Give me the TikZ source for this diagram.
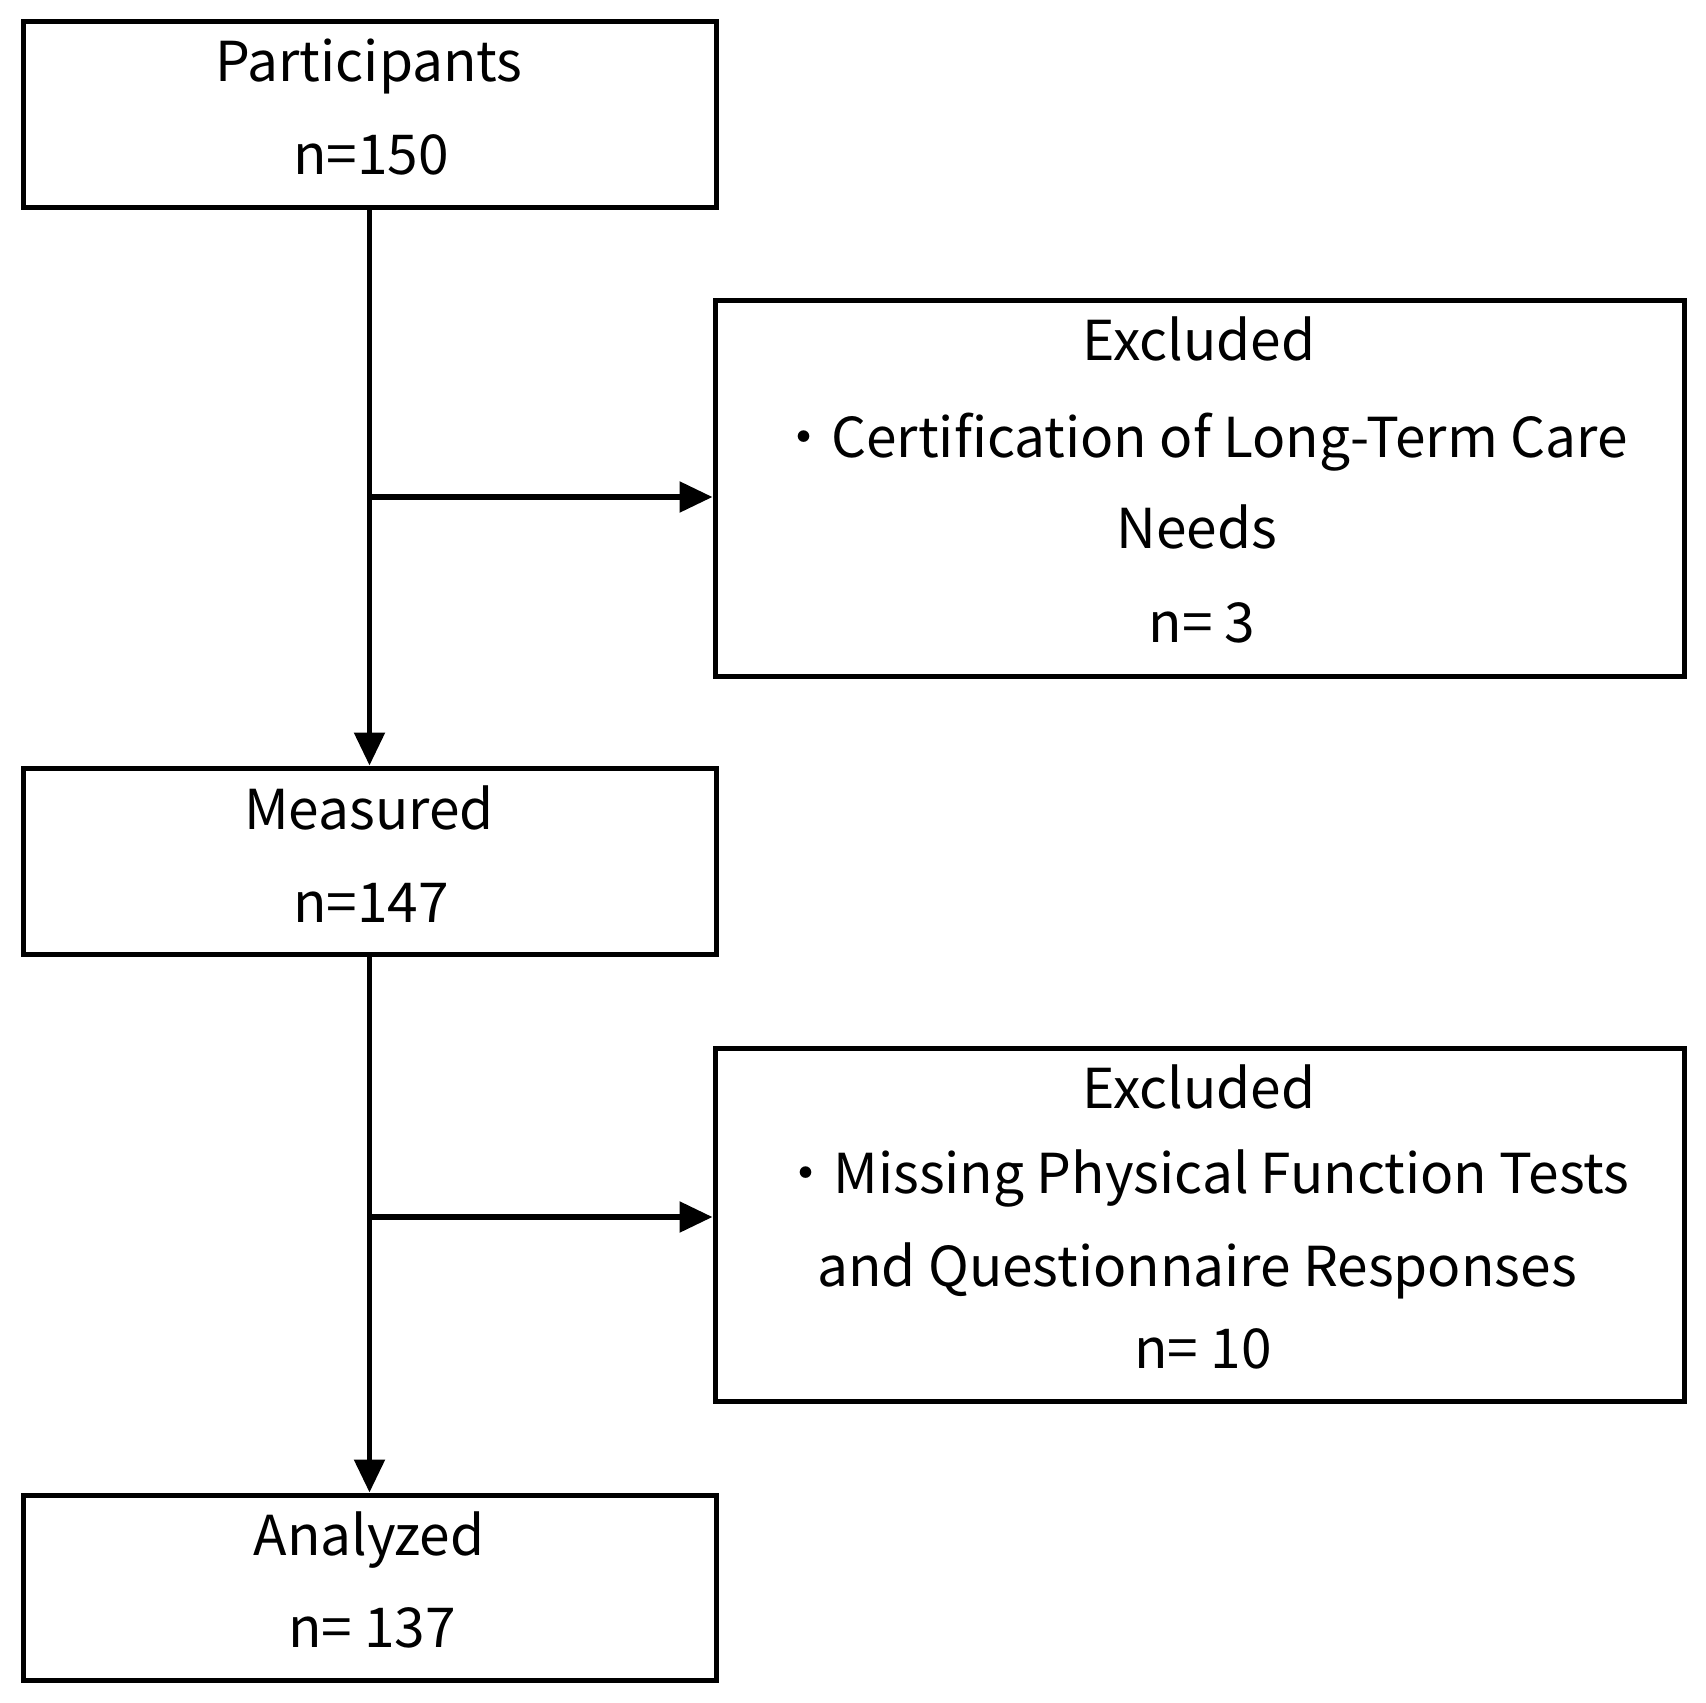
\documentclass[tikz,border=0pt]{standalone}
\usepackage{fontspec}
\setmainfont{Noto Sans CJK JP}
\usetikzlibrary{arrows.meta}
\begin{document}
\begin{tikzpicture}[x=1pt,y=-1pt,
  box/.style={draw, line width=5pt, minimum width=693pt, minimum height=186pt, inner sep=0pt},
  ebox/.style={draw, line width=5pt, minimum width=969pt, inner sep=0pt},
  txt/.style={anchor=base, inner sep=0pt, font=\fontsize{55}{66}\selectfont},
  conn/.style={line width=5.5pt, -{Triangle[length=33pt,width=30pt]}}]
\useasboundingbox (0,0) rectangle (1706,1703);
% boxes
\node[box] (P) at (369.5,114) {};
\node[ebox, minimum height=376pt] (E1) at (1199.5,488) {};
\node[box] (M) at (369.5,861) {};
\node[ebox, minimum height=353pt] (E2) at (1199.5,1224.5) {};
\node[box, minimum height=185pt] (A) at (369.5,1587.5) {};
% texts
\node[txt] (tP1) at (369,81) {Participants};
\node[txt] (tP2) at (371,174) {n=150};
\node[txt] (tE11) at (1199,360) {Excluded};
\node[txt] (tE12) at (1202,457) {・Certification of Long-Term Care};
\node[txt] (tE13) at (1197,548) {Needs};
\node[txt] (tE14) at (1202,642) {n= 3};
\node[txt] (tM1) at (369,829) {Measured};
\node[txt] (tM2) at (371,922) {n=147};
\node[txt] (tE21) at (1199,1108) {Excluded};
\node[txt] (tE22) at (1204,1193) {・Missing Physical Function Tests};
\node[txt] (tE23) at (1197,1286) {and Questionnaire Responses};
\node[txt] (tE24) at (1203,1368) {n= 10};
\node[txt] (tA1) at (369,1555) {Analyzed};
\node[txt] (tA2) at (372,1647) {n= 137};
% connectors
\coordinate (b1) at (372,497);
\coordinate (b2) at (372,1217);
\draw[conn] (P.south) -- (M.north);
\draw[conn] (b1) -- (b1 -| E1.west);
\draw[conn] (M.south) -- (A.north);
\draw[conn] (b2) -- (b2 -| E2.west);
\end{tikzpicture}
\end{document}
